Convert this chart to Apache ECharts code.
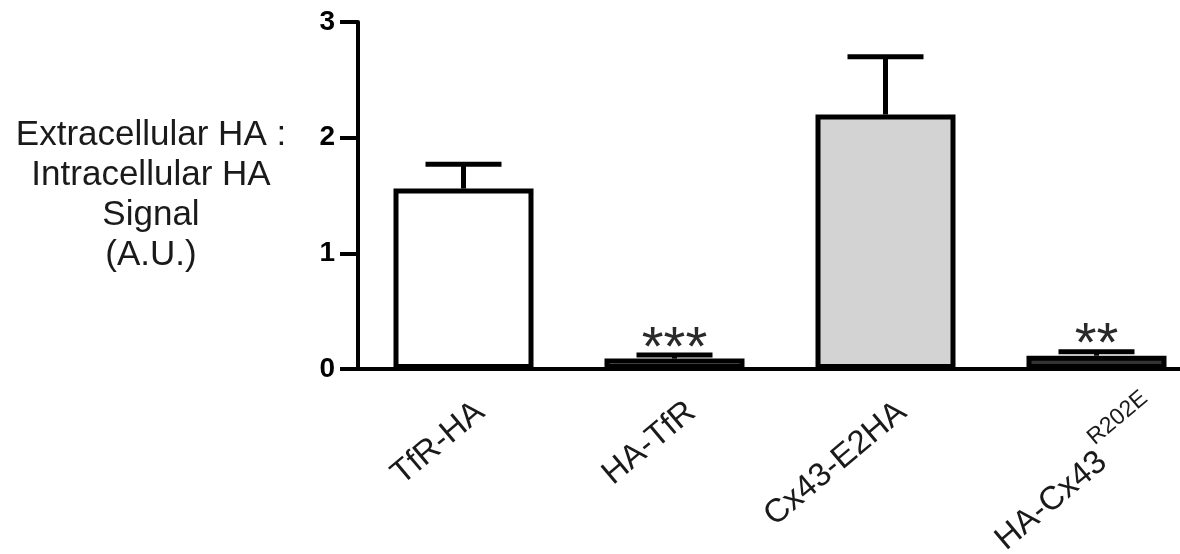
<!DOCTYPE html>
<html>
<head>
<meta charset="utf-8">
<script src="https://cdn.jsdelivr.net/npm/echarts@6/dist/echarts.min.js"></script>
<style>html,body{margin:0;padding:0;background:#fff;}#c{width:1180px;height:554px;}</style>
</head>
<body>
<div id="c"></div>
<script>
const categories = ['TfR-HA', 'HA-TfR', 'Cx43-E2HA', 'HA-Cx43'];
const superscripts = ['', '', '', 'R202E'];
const means = [1.56, 0.09, 2.20, 0.115];
const sem = [0.21, 0.03, 0.50, 0.035];
const significance = ['', '***', '', '**'];
const barColors = ['#ffffff', '#808080', '#d3d3d3', '#333333'];
const yTicks = [0, 1, 2, 3];

const FONT = 'Liberation Sans';
const chart = echarts.init(document.getElementById('c'));
const errData = means.map((m, i) => [i, m, m + sem[i]]);

// category items: labels carrying a superscript get their own box padding
const xData = categories.map((c, i) => superscripts[i]
  ? { value: c, textStyle: { padding: [47, -54, 0, 0] } }
  : c);

chart.setOption({
  animation: false,
  backgroundColor: '#ffffff',
  grid: { left: 358, width: 844, top: 22, bottom: 185, containLabel: false, outerBoundsMode: 'none' },
  xAxis: {
    type: 'category',
    data: xData,
    axisLine: { lineStyle: { color: '#000', width: 4 } },
    axisTick: { alignWithLabel: true, length: 10, lineStyle: { color: '#000', width: 4 } },
    axisLabel: {
      rotate: 40,
      margin: 53,
      padding: [0, -22, 0, 0],
      interval: 0,
      color: '#1a1a1a',
      fontFamily: FONT,
      fontSize: 33,
      formatter: function (v, idx) {
        return superscripts[idx] ? '{m|' + v + '}{s|' + superscripts[idx] + '}' : '{m|' + v + '}';
      },
      rich: {
        m: { fontSize: 33, fontFamily: FONT, color: '#1a1a1a', verticalAlign: 'bottom' },
        s: { fontSize: 23, fontFamily: FONT, color: '#1a1a1a', verticalAlign: 'bottom', padding: [0, 0, 26, 2] }
      }
    }
  },
  yAxis: {
    type: 'value',
    min: yTicks[0],
    max: yTicks[yTicks.length - 1],
    interval: 1,
    name: 'Extracellular HA :\nIntracellular HA\nSignal\n(A.U.)',
    nameLocation: 'middle',
    nameRotate: 0,
    nameGap: 207,
    nameTextStyle: { align: 'center', verticalAlign: 'middle', fontFamily: FONT, fontSize: 35, lineHeight: 40, color: '#1a1a1a' },
    axisLine: { show: true, lineStyle: { color: '#000', width: 4 } },
    axisTick: { show: true, length: 18, lineStyle: { color: '#000', width: 4 } },
    axisLabel: { margin: 23, color: '#000', fontWeight: 'bold', fontFamily: FONT, fontSize: 28 },
    splitLine: { show: false }
  },
  series: [
    {
      type: 'bar',
      barWidth: 140,
      data: means.map((m, i) => ({ value: m, itemStyle: { color: barColors[i] } })),
      itemStyle: { borderColor: '#000', borderWidth: 5 },
      z: 2
    },
    {
      type: 'custom',
      data: errData,
      z: 3,
      renderItem: function (params, api) {
        const i = api.value(0);
        const base = api.coord([i, api.value(1)]);
        const top = api.coord([i, api.value(2)]);
        const half = 38;
        const sig = significance[i];
        const children = [
          { type: 'line', shape: { x1: base[0], y1: base[1], x2: top[0], y2: top[1] }, style: { stroke: '#000', lineWidth: 5 } },
          { type: 'line', shape: { x1: top[0] - half, y1: top[1], x2: top[0] + half, y2: top[1] }, style: { stroke: '#000', lineWidth: 5 } }
        ];
        if (sig) {
          children.push({
            type: 'text',
            style: { text: sig, x: top[0], y: top[1] + 22, align: 'center', verticalAlign: 'bottom', font: '56px "Liberation Sans"', fill: '#2a2a2a' }
          });
        }
        return { type: 'group', children: children };
      }
    }
  ]
});
</script>
</body>
</html>
